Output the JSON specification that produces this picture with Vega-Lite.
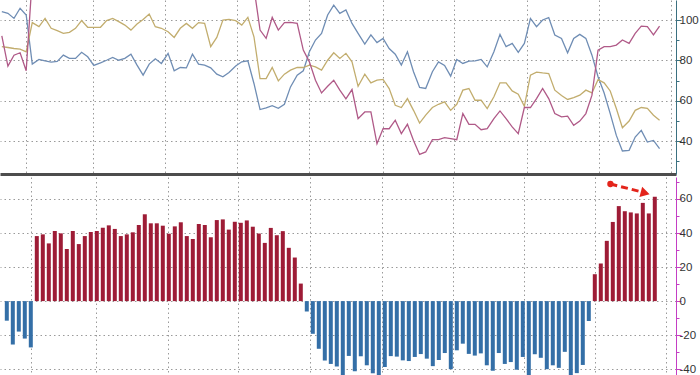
{
  "$schema": "https://vega.github.io/schema/vega-lite/v6.json",
  "padding": 0,
  "background": "white",
  "spacing": 3,
  "config": {
    "view": {"stroke": null},
    "axis": {"labelFont": "Liberation Sans", "labelFontSize": 11.5, "labelColor": "#333333"}
  },
  "resolve": {"scale": {"y": "independent", "color": "independent"}},
  "datasets": {
    "lines": [
      {"t":0,"b":104.1,"o":86.8,"m":92.1},{"t":1.0,"b":103.3,"o":86.4,"m":77.2},{"t":2.0,"b":100.8,"o":85.9,"m":82.6},{"t":3.0,"b":105.8,"o":85.6,"m":83.8},{"t":4.0,"b":102.5,"o":84.3,"m":74.9},
      {"t":5.0,"b":78.2,"o":98.7,"m":121},{"t":6.1,"b":80.5,"o":96.7,"m":124},{"t":7.1,"b":79.8,"o":100.8,"m":126},{"t":8.1,"b":79.2,"o":95.9,"m":125},{"t":9.1,"b":79.5,"o":94.7,"m":127},
      {"t":10.1,"b":82.6,"o":93.4,"m":124},{"t":11.1,"b":81.0,"o":93.9,"m":126},{"t":12.1,"b":81.0,"o":95.9,"m":128},{"t":13.1,"b":84.0,"o":99.7,"m":125},{"t":14.1,"b":81.8,"o":96.4,"m":123},
      {"t":15.1,"b":77.5,"o":96.4,"m":126},{"t":16.2,"b":78.8,"o":96.4,"m":127},{"t":17.2,"b":80.1,"o":99.7,"m":124},{"t":18.2,"b":81.5,"o":100.8,"m":126},{"t":19.2,"b":80.1,"o":99.2,"m":128},
      {"t":20.2,"b":81.0,"o":97.5,"m":125},{"t":21.2,"b":83.1,"o":95.0,"m":127},{"t":22.2,"b":77.7,"o":98.0,"m":124},{"t":23.2,"b":72.7,"o":100.3,"m":126},{"t":24.2,"b":78.2,"o":103.0,"m":125},
      {"t":25.2,"b":80.8,"o":96.7,"m":127},{"t":26.2,"b":78.5,"o":95.9,"m":126},{"t":27.3,"b":83.5,"o":94.2,"m":124},{"t":28.3,"b":74.9,"o":91.4,"m":125},{"t":29.3,"b":76.5,"o":95.9,"m":127},
      {"t":30.3,"b":76.3,"o":98.3,"m":126},{"t":31.3,"b":83.1,"o":95.9,"m":124},{"t":32.3,"b":78.2,"o":98.7,"m":125},{"t":33.3,"b":77.7,"o":98.3,"m":127},{"t":34.3,"b":76.3,"o":86.8,"m":126},
      {"t":35.3,"b":73.2,"o":91.4,"m":124},{"t":36.3,"b":71.9,"o":100.0,"m":125},{"t":37.3,"b":74.0,"o":100.3,"m":123},{"t":38.4,"b":77.2,"o":99.7,"m":124},{"t":39.4,"b":79.3,"o":97.5,"m":122},
      {"t":40.4,"b":79.8,"o":101.3,"m":121},{"t":41.4,"b":68.6,"o":91.7,"m":116},{"t":42.4,"b":55.7,"o":71.0,"m":95.0},{"t":43.4,"b":56.5,"o":71.0,"m":90.9},{"t":44.4,"b":57.6,"o":76.5,"m":101.3},
      {"t":45.4,"b":56.3,"o":69.9,"m":95.0},{"t":46.4,"b":58.3,"o":73.2,"m":98.7},{"t":47.4,"b":66.9,"o":75.2,"m":98.8},{"t":48.5,"b":72.7,"o":76.5,"m":98.3},{"t":49.5,"b":74.9,"o":76.5,"m":85.1},
      {"t":50.5,"b":84.3,"o":77.7,"m":79.3},{"t":51.5,"b":90.1,"o":76.8,"m":70.2},{"t":52.5,"b":93.4,"o":75.2,"m":63.9},{"t":53.5,"b":102.5,"o":80.1,"m":67.2},{"t":54.5,"b":107.4,"o":83.8,"m":70.2},
      {"t":55.5,"b":103.3,"o":81.0,"m":65.3},{"t":56.5,"b":105.0,"o":83.5,"m":61.0},{"t":57.5,"b":98.3,"o":79.3,"m":65.6},{"t":58.5,"b":93.4,"o":67.2,"m":51.2},{"t":59.6,"b":88.1,"o":73.2,"m":54.5},
      {"t":60.6,"b":92.6,"o":68.9,"m":54.5},{"t":61.6,"b":88.8,"o":70.2,"m":38.8},{"t":62.6,"b":90.9,"o":70.6,"m":46.2},{"t":63.6,"b":85.9,"o":66.1,"m":46.2},{"t":64.6,"b":83.1,"o":57.8,"m":50.4},
      {"t":65.6,"b":77.7,"o":56.7,"m":43.8},{"t":66.6,"b":84.3,"o":61.1,"m":48.4},{"t":67.6,"b":74.4,"o":55.3,"m":40.4},{"t":68.6,"b":66.6,"o":49.0,"m":33.5},{"t":69.6,"b":66.1,"o":52.9,"m":34.7},
      {"t":70.7,"b":74.4,"o":56.7,"m":40.8},{"t":71.7,"b":79.3,"o":58.3,"m":40.8},{"t":72.7,"b":77.5,"o":59.5,"m":41.8},{"t":73.7,"b":72.2,"o":55.3,"m":41.3},{"t":74.7,"b":80.5,"o":58.3,"m":40.8},
      {"t":75.7,"b":78.5,"o":65.3,"m":53.7},{"t":76.7,"b":79.7,"o":66.1,"m":48.4},{"t":77.7,"b":79.8,"o":60.3,"m":48.4},{"t":78.7,"b":80.5,"o":60.3,"m":45.7},{"t":79.7,"b":76.8,"o":56.2,"m":46.2},
      {"t":80.8,"b":84.3,"o":62.0,"m":51.2},{"t":81.8,"b":92.9,"o":68.9,"m":55.0},{"t":82.8,"b":86.8,"o":68.9,"m":51.2},{"t":83.8,"b":88.4,"o":64.9,"m":47.1},{"t":84.8,"b":84.0,"o":63.3,"m":43.8},
      {"t":85.8,"b":88.4,"o":57.3,"m":56.7},{"t":86.8,"b":100.8,"o":72.7,"m":56.7},{"t":87.8,"b":96.7,"o":74.2,"m":61.1},{"t":88.8,"b":100.0,"o":73.8,"m":66.1},{"t":89.8,"b":101.2,"o":73.5,"m":61.1},
      {"t":90.8,"b":92.6,"o":65.3,"m":53.7},{"t":91.9,"b":90.9,"o":62.6,"m":52.1},{"t":92.9,"b":83.8,"o":60.7,"m":52.4},{"t":93.9,"b":90.9,"o":61.6,"m":47.9},{"t":94.9,"b":92.9,"o":62.8,"m":50.0},
      {"t":95.9,"b":90.9,"o":65.3,"m":53.7},{"t":96.9,"b":82.6,"o":63.9,"m":62.8},{"t":97.9,"b":71.9,"o":70.5,"m":85.1},{"t":98.9,"b":63.9,"o":68.9,"m":86.8},{"t":99.9,"b":53.7,"o":64.9,"m":86.8},
      {"t":100.9,"b":42.9,"o":56.2,"m":87.6},{"t":101.9,"b":35.2,"o":46.7,"m":90.1},{"t":103.0,"b":35.5,"o":50.0,"m":88.4},{"t":104.0,"b":42.1,"o":55.3,"m":93.4},{"t":105.0,"b":45.4,"o":56.7,"m":97.0},
      {"t":106.0,"b":39.6,"o":56.3,"m":96.7},{"t":107.0,"b":40.4,"o":52.9,"m":92.6},{"t":108.0,"b":36.3,"o":50.4,"m":97.0}
    ],
    "bars": [
      {"i":0,"v":-11.5},{"i":1,"v":-25.5},{"i":2,"v":-17.9},{"i":3,"v":-22.0},{"i":4,"v":-27.2},
      {"i":5,"v":38.2},{"i":6,"v":39.2},{"i":7,"v":33.9},{"i":8,"v":41.2},{"i":9,"v":39.8},
      {"i":10,"v":30.6},{"i":11,"v":41.2},{"i":12,"v":33.5},{"i":13,"v":38.2},{"i":14,"v":40.6},
      {"i":15,"v":41.2},{"i":16,"v":43.1},{"i":17,"v":44.5},{"i":18,"v":42.4},{"i":19,"v":38.2},
      {"i":20,"v":39.2},{"i":21,"v":40.4},{"i":22,"v":44.7},{"i":23,"v":51.0},{"i":24,"v":45.7},
      {"i":25,"v":45.7},{"i":26,"v":44.3},{"i":27,"v":39.6},{"i":28,"v":43.9},{"i":29,"v":46.3},
      {"i":30,"v":38.2},{"i":31,"v":36.5},{"i":32,"v":45.3},{"i":33,"v":44.7},{"i":34,"v":37.5},
      {"i":35,"v":47.6},{"i":36,"v":48.0},{"i":37,"v":42.0},{"i":38,"v":46.6},{"i":39,"v":46.0},
      {"i":40,"v":47.4},{"i":41,"v":43.7},{"i":42,"v":39.7},{"i":43,"v":34.2},{"i":44,"v":43.0},
      {"i":45,"v":38.7},{"i":46,"v":41.1},{"i":47,"v":31.3},{"i":48,"v":25.6},{"i":49,"v":10.3},
      {"i":50,"v":-6.1},{"i":51,"v":-19.2},{"i":52,"v":-28.0},{"i":53,"v":-34.9},{"i":54,"v":-36.9},
      {"i":55,"v":-38.4},{"i":56,"v":-45.0},{"i":57,"v":-32.2},{"i":58,"v":-41.2},{"i":59,"v":-32.4},
      {"i":60,"v":-37.7},{"i":61,"v":-42.4},{"i":62,"v":-44.5},{"i":63,"v":-38.7},{"i":64,"v":-32.3},
      {"i":65,"v":-32.6},{"i":66,"v":-34.8},{"i":67,"v":-35.2},{"i":68,"v":-32.8},{"i":69,"v":-31.1},
      {"i":70,"v":-33.8},{"i":71,"v":-38.2},{"i":72,"v":-34.6},{"i":73,"v":-30.5},{"i":74,"v":-40.0},
      {"i":75,"v":-28.9},{"i":76,"v":-25.0},{"i":77,"v":-31.0},{"i":78,"v":-32.0},{"i":79,"v":-30.7},
      {"i":80,"v":-37.7},{"i":81,"v":-40.9},{"i":82,"v":-30.5},{"i":83,"v":-36.9},{"i":84,"v":-35.8},
      {"i":85,"v":-40.3},{"i":86,"v":-32.8},{"i":87,"v":-45.0},{"i":88,"v":-31.2},{"i":89,"v":-33.3},
      {"i":90,"v":-40.0},{"i":91,"v":-37.7},{"i":92,"v":-39.2},{"i":93,"v":-29.8},{"i":94,"v":-44.0},
      {"i":95,"v":-42.3},{"i":96,"v":-37.5},{"i":97,"v":-11.7},
      {"i":98,"v":15.8},{"i":99,"v":22.1},{"i":100,"v":35.4},{"i":101,"v":46.5},{"i":102,"v":55.8},
      {"i":103,"v":52.8},{"i":104,"v":52.1},{"i":105,"v":51.5},{"i":106,"v":57.7},{"i":107,"v":51.5},{"i":108,"v":61.3}
    ],
    "arrow": [
      {"x0":100.6,"y0":68.8,"x1":105.3,"y1":64.6,"hx":106.4,"hy":63.5}
    ]
  },
  "vconcat": [
    {
      "width": 676,
      "height": 174,
      "data": {"name": "lines"},
      "transform": [{"fold": ["b", "o", "m"], "as": ["series", "val"]}],
      "mark": {"type": "line", "strokeWidth": 1.3, "clip": true},
      "encoding": {
        "x": {
          "field": "t", "type": "quantitative",
          "scale": {"domain": [-0.3, 110.7], "nice": false, "zero": false},
          "axis": {
            "orient": "bottom", "values": [4.0, 14.9, 26.8, 38.6, 50.5, 62.6, 74.3, 86.2, 98.0, 109.9],
            "grid": true, "gridColor": "#9a9a9a", "gridDash": [1.5, 3], "gridWidth": 1,
            "labels": false, "ticks": false, "domain": true, "domainColor": "#4d4d4d", "domainWidth": 3, "title": null
          }
        },
        "y": {
          "field": "val", "type": "quantitative",
          "scale": {"domain": [23.8, 109.9], "nice": false, "zero": false},
          "axis": {
            "orient": "right", "values": [30, 40, 50, 60, 70, 80, 90, 100],
            "labelExpr": "datum.value % 20 === 0 ? '' + datum.value : ''",
            "tickSize": {"condition": {"test": "datum.value % 20 === 0", "value": 5}, "value": 3},
            "grid": true, "gridColor": "#9a9a9a", "gridDash": [1.5, 3],
            "gridOpacity": {"condition": {"test": "datum.value % 20 === 0", "value": 1}, "value": 0},
            "domainColor": "#3b7080", "tickColor": "#3b7080", "labelPadding": -2, "title": null
          }
        },
        "color": {
          "field": "series", "type": "nominal",
          "scale": {"domain": ["b", "o", "m"], "range": ["#6f8db4", "#c2ad6e", "#b05a88"]},
          "legend": null
        }
      }
    },
    {
      "width": 676,
      "height": 198,
      "encoding": {
        "x": {
          "type": "quantitative",
          "scale": {"domain": [-0.3, 110.7], "nice": false, "zero": false},
          "axis": {
            "orient": "bottom", "values": [4.0, 14.9, 26.8, 38.6, 50.5, 62.6, 74.3, 86.2, 98.0, 109.9],
            "grid": true, "gridColor": "#9a9a9a", "gridDash": [1.5, 3], "gridWidth": 1,
            "labels": false, "ticks": false, "domain": false, "title": null
          }
        },
        "y": {
          "type": "quantitative",
          "scale": {"domain": [-43.4, 72.9], "nice": false, "zero": false},
          "axis": {
            "orient": "right", "values": [-40, -30, -20, -10, 0, 10, 20, 30, 40, 50, 60, 70],
            "labelExpr": "datum.value % 20 === 0 ? '' + datum.value : ''",
            "tickSize": {"condition": {"test": "datum.value % 20 === 0", "value": 5}, "value": 3},
            "grid": true, "gridColor": "#9a9a9a", "gridDash": [1.5, 3],
            "gridOpacity": {"condition": {"test": "datum.value % 20 === 0", "value": 1}, "value": 0},
            "domainColor": "#c43ec4", "tickColor": "#c43ec4", "labelPadding": -2, "title": null
          }
        }
      },
      "layer": [
        {
          "data": {"name": "bars"},
          "mark": {"type": "bar", "size": 4, "clip": true},
          "encoding": {
            "x": {"field": "i"},
            "y": {"field": "v"},
            "color": {"condition": {"test": "datum.v > 0", "value": "#9e1c36"}, "value": "#346fa7"}
          }
        },
        {
          "data": {"name": "arrow"},
          "mark": {"type": "rule", "color": "#e3241b", "strokeWidth": 3, "strokeDash": [7, 4]},
          "encoding": {
            "x": {"field": "x0"},
            "y": {"field": "y0"},
            "x2": {"field": "x1"},
            "y2": {"field": "y1"}
          }
        },
        {
          "data": {"name": "arrow"},
          "mark": {"type": "point", "shape": "circle", "filled": true, "size": 40, "color": "#e3241b", "opacity": 1},
          "encoding": {
            "x": {"field": "x0"},
            "y": {"field": "y0"}
          }
        },
        {
          "data": {"name": "arrow"},
          "mark": {"type": "point", "shape": "triangle-right", "filled": true, "size": 110, "angle": 15, "color": "#e3241b", "opacity": 1},
          "encoding": {
            "x": {"field": "hx"},
            "y": {"field": "hy"}
          }
        }
      ]
    }
  ]
}
